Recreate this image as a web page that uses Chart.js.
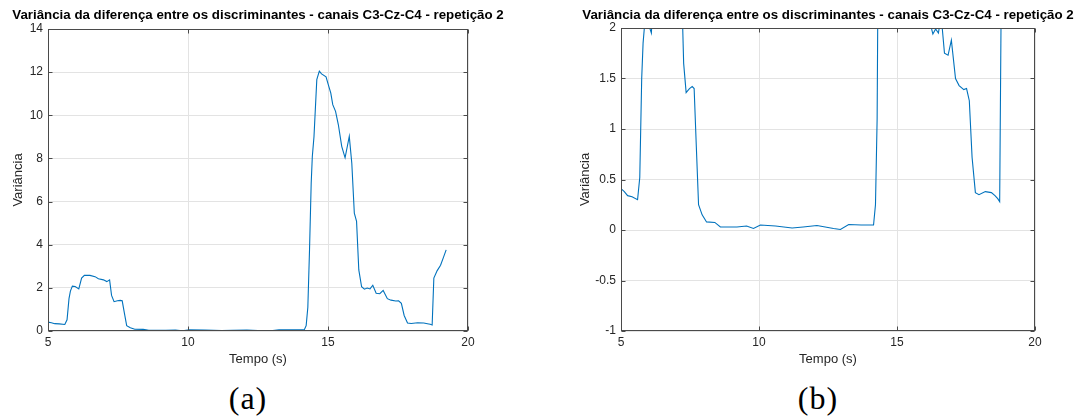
<!DOCTYPE html>
<html>
<head>
<meta charset="utf-8">
<script src="https://cdn.jsdelivr.net/npm/chart.js@4.4.1/dist/chart.umd.min.js"></script>
<style>
  html, body { margin: 0; padding: 0; background: #fff; }
  body { width: 1091px; height: 419px; position: relative; overflow: hidden; }
  .panel { position: absolute; top: 0; }
  .caption { position: absolute; font-family: "Liberation Serif", "DejaVu Serif", serif; font-size: 32px; letter-spacing: 1px; color: #000; top: 380px; transform: translateX(-50%); }
</style>
</head>
<body>
<div class="panel" style="left:0"><canvas id="chartA" width="545" height="370"></canvas></div>
<div class="panel" style="left:560px"><canvas id="chartB" width="531" height="370"></canvas></div>
<div class="caption" style="left:248px">(a)</div>
<div class="caption" style="left:818px">(b)</div>
<script>
// Time axis (s) and variance values
const timeS = [5.0, 5.12, 5.24, 5.4, 5.6, 5.68, 5.75, 5.8, 5.87, 5.97, 6.1, 6.2, 6.3, 6.5, 6.68, 6.8, 6.98, 7.1, 7.2, 7.27,
  7.36, 7.48, 7.58, 7.65, 7.73, 7.81, 7.94, 8.1, 8.4, 8.6, 9.2, 9.55, 9.8, 10.05, 10.6, 11.2, 11.6, 12.1, 12.7, 12.95,
  13.25, 13.7, 14.15, 14.22, 14.28, 14.34, 14.4, 14.44, 14.5, 14.6, 14.69, 14.77, 14.93, 15.01, 15.1, 15.17, 15.27, 15.37, 15.49, 15.61,
  15.76, 15.85, 15.94, 16.02, 16.1, 16.2, 16.3, 16.4, 16.5, 16.6, 16.72, 16.85, 16.97, 17.12, 17.25, 17.42, 17.52, 17.62, 17.72, 17.84,
  17.97, 18.2, 18.42, 18.55, 18.65, 18.72, 18.78, 18.9, 19.02, 19.12, 19.22];
const variance = [0.41, 0.38, 0.34, 0.33, 0.30, 0.52, 1.5, 1.85, 2.08, 2.06, 1.95, 2.45, 2.58, 2.58, 2.52, 2.42, 2.37, 2.29, 2.37, 1.65,
  1.36, 1.40, 1.42, 1.40, 0.82, 0.25, 0.15, 0.08, 0.075, 0.03, 0.03, 0.04, 0.015, 0.05, 0.04, 0.02, 0.03, 0.045, 0.015, 0.005,
  0.055, 0.05, 0.05, 0.25, 1.1, 3.76, 6.86, 8.09, 9.02, 11.65, 12.05, 11.92, 11.78, 11.42, 11.03, 10.49, 10.18, 9.56, 8.56, 8.03,
  9.02, 7.78, 5.46, 5.08, 2.83, 2.05, 1.94, 1.99, 1.95, 2.12, 1.75, 1.73, 1.88, 1.50, 1.43, 1.39, 1.40, 1.28, 0.72, 0.37,
  0.35, 0.38, 0.37, 0.34, 0.31, 0.28, 2.45, 2.8, 3.05, 3.4, 3.76];

const xTicks = [5, 10, 15, 20];
const yTicksFull = [0, 2, 4, 6, 8, 10, 12, 14];
const yTicksZoom = [-1, -0.5, 0, 0.5, 1, 1.5, 2];

const chartTitle = 'Variância da diferença entre os discriminantes - canais C3-Cz-C4 - repetição 2';
const xLabel = 'Tempo (s)';
const yLabel = 'Variância';

const FONT = '"Liberation Sans", Arial, Helvetica, sans-serif';
const AXIS_COLOR = '#4a4a4a';
const TEXT_COLOR = '#262626';
const GRID_COLOR = '#e3e3e3';
const LINE_COLOR = '#0072BD';

// box around the axes with inward tick marks on all four sides + title
const matlabBox = {
  id: 'matlabBox',
  afterDraw(chart) {
    const { ctx, chartArea: a, scales: { x, y } } = chart;
    const L = Math.round(a.left) + 0.5, R = Math.round(a.right) - 0.5;
    const T = Math.round(a.top) + 0.5, B = Math.round(a.bottom) - 0.5;
    ctx.save();
    ctx.strokeStyle = AXIS_COLOR;
    ctx.lineWidth = 1;
    ctx.strokeRect(L, T, R - L, B - T);
    const tl = 4;
    ctx.beginPath();
    x.ticks.forEach(t => {
      const px = Math.round(x.getPixelForValue(t.value)) + 0.5;
      ctx.moveTo(px, B); ctx.lineTo(px, B - tl);
      ctx.moveTo(px, T); ctx.lineTo(px, T + tl);
    });
    y.ticks.forEach(t => {
      const py = Math.round(y.getPixelForValue(t.value)) + 0.5;
      ctx.moveTo(L, py); ctx.lineTo(L + tl, py);
      ctx.moveTo(R, py); ctx.lineTo(R - tl, py);
    });
    ctx.stroke();
    ctx.fillStyle = '#000';
    ctx.font = 'bold 13.3px ' + FONT;
    ctx.textAlign = 'center';
    ctx.textBaseline = 'middle';
    ctx.fillText(chartTitle, (a.left + a.right) / 2, 15.5);
    ctx.restore();
  }
};

function makeChart(id, yTicks, yMin, yMax, pad, yWidth, yTitlePad) {
  const points = timeS.map((t, i) => ({ x: t, y: variance[i] }));
  return new Chart(document.getElementById(id), {
    type: 'line',
    data: {
      datasets: [{
        data: points,
        borderColor: LINE_COLOR,
        borderWidth: 1.1,
        pointRadius: 0,
        tension: 0,
        fill: false
      }]
    },
    options: {
      responsive: false,
      animation: false,
      layout: { padding: pad },
      plugins: { legend: { display: false }, tooltip: { enabled: false } },
      scales: {
        x: {
          type: 'linear',
          min: 5, max: 20,
          afterBuildTicks: s => { s.ticks = xTicks.map(v => ({ value: v })); },
          afterFit: s => { s.height = 39; },
          grid: { color: GRID_COLOR, drawTicks: false },
          border: { display: false },
          ticks: { color: TEXT_COLOR, font: { family: FONT, size: 12 }, padding: 4, maxRotation: 0,
            callback: v => String(v) },
          title: { display: true, text: xLabel, color: TEXT_COLOR, font: { family: FONT, size: 13 },
            padding: { top: 0, bottom: 3 } }
        },
        y: {
          min: yMin, max: yMax,
          afterBuildTicks: s => { s.ticks = yTicks.map(v => ({ value: v })); },
          afterFit: s => { s.width = yWidth; },
          grid: { color: GRID_COLOR, drawTicks: false },
          border: { display: false },
          ticks: { color: TEXT_COLOR, font: { family: FONT, size: 12 }, padding: 5,
            callback: v => String(v) },
          title: { display: true, text: yLabel, color: TEXT_COLOR, font: { family: FONT, size: 13 },
            padding: { top: yTitlePad, bottom: 0 } }
        }
      }
    },
    plugins: [matlabBox]
  });
}

makeChart('chartA', yTicksFull, 0, 14, { top: 29, left: 0, right: 77, bottom: 0 }, 48, 11);
makeChart('chartB', yTicksZoom, -1, 2, { top: 28, left: 0, right: 56, bottom: 0 }, 61, 18);
</script>
</body>
</html>
